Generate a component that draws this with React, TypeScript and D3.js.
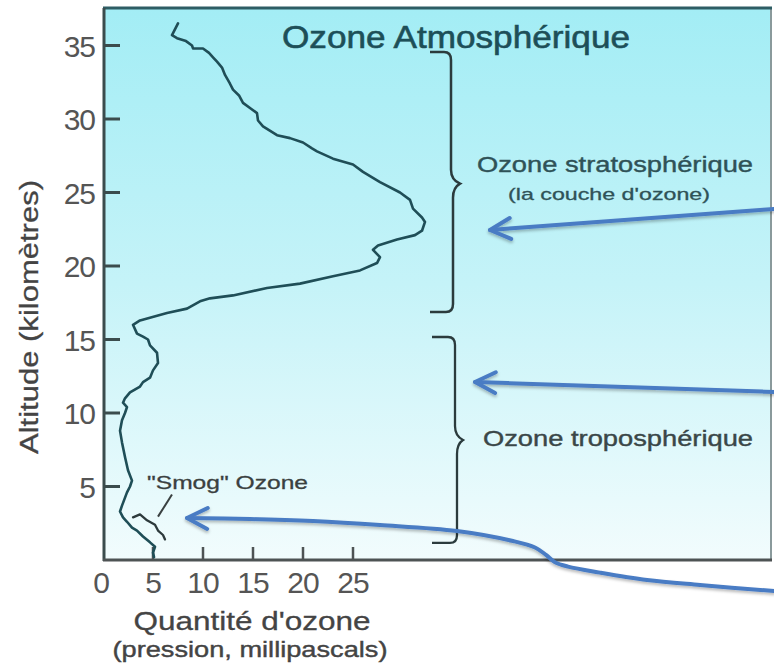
import React from 'react';
import * as d3 from 'd3';

const W = 774;
const H = 667;

// Axis ticks
const yTicks = [5, 10, 15, 20, 25, 30, 35];
const xTicks = [0, 5, 10, 15, 20, 25];

// Ozone profile (ozone partial pressure in mPa, altitude in km), top to bottom
const profileOzone = [
  7.5, 6.9, 7.4, 8.3, 8.9, 9.0, 10.0, 10.6, 11.0, 11.4, 11.9, 12.2, 12.7, 13.0, 13.6, 14.0,
  14.8, 15.4, 15.5, 16.0, 17.4, 18.7, 20.0, 20.9, 21.4, 23.0, 25.0, 26.0, 27.7, 29.7, 30.7,
  31.0, 31.9, 32.2, 31.9, 31.2, 29.4, 27.5, 27.0, 27.7, 27.4, 25.7, 23.0, 19.7, 16.4, 13.0,
  10.7, 9.7, 8.4, 6.4, 3.7, 3.0, 3.4, 4.0, 4.5, 4.7, 5.4, 5.5, 5.0, 4.7, 4.0, 3.7, 2.7, 2.2,
  2.0, 2.4, 2.2, 1.9, 1.7, 1.9, 2.2, 2.5, 2.9, 2.7, 2.4, 1.9, 1.7, 2.0, 2.4, 2.9, 3.4, 4.0,
  4.7, 5.2, 5.0, 5.1,
];
const profileAltitude = [
  36.5, 35.7, 35.5, 35.3, 35.0, 34.8, 34.8, 34.5, 34.2, 33.9, 33.5, 33.0, 32.4, 32.0, 31.6, 31.1,
  30.7, 30.4, 29.9, 29.5, 28.9, 28.7, 28.4, 28.0, 27.8, 27.3, 26.9, 26.4, 25.7, 25.0, 24.5,
  23.9, 23.3, 23.0, 22.4, 22.1, 21.8, 21.4, 21.1, 20.6, 20.2, 19.7, 19.3, 18.8, 18.5, 18.0,
  17.8, 17.6, 17.1, 16.8, 16.3, 16.0, 15.4, 15.2, 15.0, 14.6, 14.1, 13.4, 12.9, 12.4, 12.1, 11.8, 11.4, 11.0,
  10.7, 10.4, 10.0, 9.5, 8.8, 8.0, 7.0, 6.1, 5.4, 5.0, 4.6, 3.7, 3.3, 2.9, 2.6, 2.2, 2.0, 1.6,
  1.2, 0.9, 0.5, 0.2,
];

// "Smog" branch near the ground
const smogOzone = [3.0, 3.7, 4.4, 5.2, 5.5, 6.0, 6.2];
const smogAltitude = [2.9, 3.1, 2.7, 2.4, 2.0, 1.7, 1.4];

// Annotation arrows (in data units)
const arrowStratoOzone = [67.1, 38.7];
const arrowStratoAltitude = [23.88, 22.45];
const arrowTropoOzone = [67.1, 37.2];
const arrowTropoAltitude = [11.43, 12.11];
const arrowSmogOzone = [67.1, 59.7, 54.4, 49.7, 46.5, 45.2, 44.3, 43.2, 41.0, 35.4, 27.7, 21.0, 14.7, 8.4];
const arrowSmogAltitude = [-2.11, -1.7, -1.36, -0.86, -0.45, -0.15, 0.35, 0.85, 1.29, 1.97, 2.38, 2.65, 2.79, 2.86];

export default function App() {
  const x = d3.scaleLinear().domain([0, 25]).range([103, 353]);
  const y = d3.scaleLinear().domain([0, 35]).range([560, 45.5]);

  const xLeft = x(0) + 1;
  const xRight = x(66.8);
  const yTop = y(37.55);
  const yBottom = y(0);

  const line = d3
    .line<[number, number]>()
    .x((d) => x(d[0]))
    .y((d) => y(d[1]))
    .curve(d3.curveLinear);

  const profile: [number, number][] = profileOzone.map((v, i) => [v, profileAltitude[i]]);
  const smog: [number, number][] = smogOzone.map((v, i) => [v, smogAltitude[i]]);

  const smoothLine = d3
    .line<[number, number]>()
    .x((d) => x(d[0]))
    .y((d) => y(d[1]))
    .curve(d3.curveCatmullRom.alpha(0.5));

  const arrowSmog: [number, number][] = arrowSmogOzone.map((v, i) => [v, arrowSmogAltitude[i]]);

  function head(tipX: number, tipY: number, fromX: number, fromY: number) {
    const ang = Math.atan2(fromY - tipY, fromX - tipX);
    const L = 23;
    const a = (27 * Math.PI) / 180;
    const p1 = [tipX + L * Math.cos(ang - a), tipY + L * Math.sin(ang - a)];
    const p2 = [tipX + L * Math.cos(ang + a), tipY + L * Math.sin(ang + a)];
    return `M${p1[0]},${p1[1]}L${tipX},${tipY}L${p2[0]},${p2[1]}`;
  }

  function brace(xv: number, top: number, bottom: number, mid: number, hookX: number, bumpX: number, xLow: number) {
    const p = d3.path();
    p.moveTo(hookX, top);
    p.lineTo(xv - 7, top);
    p.quadraticCurveTo(xv, top, xv, top + 8);
    p.lineTo(xv, mid - 14);
    p.quadraticCurveTo(xv, mid - 4, bumpX, mid);
    p.quadraticCurveTo(xLow, mid + 4, xLow, mid + 14);
    p.lineTo(xLow, bottom - 8);
    p.quadraticCurveTo(xLow, bottom, xLow - 7, bottom);
    p.lineTo(hookX, bottom);
    return p.toString();
  }

  const a1 = { tx: x(arrowStratoOzone[1]), ty: y(arrowStratoAltitude[1]), fx: x(arrowStratoOzone[0]), fy: y(arrowStratoAltitude[0]) };
  const a2 = { tx: x(arrowTropoOzone[1]), ty: y(arrowTropoAltitude[1]), fx: x(arrowTropoOzone[0]), fy: y(arrowTropoAltitude[0]) };
  const a3tip = arrowSmog[arrowSmog.length - 1];
  const a3prev = arrowSmog[arrowSmog.length - 3];

  const font = "'Liberation Sans', Arial, Helvetica, sans-serif";
  const blue = '#4a7cc4';

  return (
    <svg width={W} height={H} style={{ position: 'absolute', left: 0, top: 0, background: '#ffffff' }} fontFamily={font}>
      <defs>
        <linearGradient id="bg" x1="0" y1="0" x2="0" y2="1">
          <stop offset="0" stopColor="#a3edf5" />
          <stop offset="0.5" stopColor="#c5f3f8" />
          <stop offset="1" stopColor="#f2fcfd" />
        </linearGradient>
        <filter id="sh" x="-10%" y="-50%" width="120%" height="200%">
          <feDropShadow dx="0" dy="2" stdDeviation="1.5" floodColor="#000" floodOpacity="0.28" />
        </filter>
      </defs>

      {/* plot background */}
      <rect x={xLeft} y={yTop} width={xRight - xLeft} height={yBottom - yTop} fill="url(#bg)" />
      {/* frame */}
      <line x1={xRight} y1={yTop} x2={xRight} y2={yBottom} stroke="#8a9a9c" strokeWidth={2} />
      <line x1={xLeft - 1} y1={yTop} x2={xRight + 1} y2={yTop} stroke="#2e5d64" strokeWidth={3} />
      <line x1={xLeft} y1={yTop} x2={xLeft} y2={yBottom + 1} stroke="#3b4c4d" strokeWidth={3} />
      <line x1={xLeft - 1} y1={yBottom} x2={xRight + 1} y2={yBottom} stroke="#4e5354" strokeWidth={3} />

      {/* y ticks */}
      {yTicks.map((t) => (
        <g key={'y' + t}>
          <line x1={xLeft} x2={xLeft + 16} y1={y(t)} y2={y(t)} stroke="#3b4c4d" strokeWidth={3} />
          <text x={95} y={y(t) + 11} textAnchor="end" fontSize={30} fill="#555" letterSpacing={-1}>
            {t}
          </text>
        </g>
      ))}

      {/* x ticks */}
      {xTicks.map((t) => (
        <g key={'x' + t}>
          {t > 0 && <line x1={x(t)} x2={x(t)} y1={yBottom} y2={yBottom - 13} stroke="#4e5354" strokeWidth={2.5} />}
          <text x={x(t) - (t === 0 ? 2 : 0)} y={593} textAnchor="middle" fontSize={30} fill="#555" letterSpacing={-1}>
            {t}
          </text>
        </g>
      ))}

      {/* axis titles */}
      <text x={252} y={630} textAnchor="middle" fontSize={26} fill="#444" stroke="#444" strokeWidth={0.3} textLength={237} lengthAdjust="spacingAndGlyphs">
        Quantité d'ozone
      </text>
      <text x={250} y={657} textAnchor="middle" fontSize={22} fill="#444" stroke="#444" strokeWidth={0.4} textLength={275} lengthAdjust="spacingAndGlyphs">
        (pression, millipascals)
      </text>
      <text transform="translate(38,317) rotate(-90)" textAnchor="middle" fontSize={26} fill="#444" stroke="#444" strokeWidth={0.3} textLength={274} lengthAdjust="spacingAndGlyphs">
        Altitude (kilomètres)
      </text>

      {/* title */}
      <text x={282} y={48} fontSize={32} fill="#1d4f58" stroke="#1d4f58" strokeWidth={0.6} textLength={348} lengthAdjust="spacingAndGlyphs">
        Ozone Atmosphérique
      </text>

      {/* ozone profile */}
      <path d={line(profile) || ''} fill="none" stroke="#1f4e57" strokeWidth={2.6} strokeLinejoin="round" strokeLinecap="round" />
      <path d={line(smog) || ''} fill="none" stroke="#2d3a3c" strokeWidth={2.3} strokeLinejoin="round" strokeLinecap="round" />

      {/* smog label + pointer */}
      <text x={147} y={489} fontSize={19} fill="#3a4040" stroke="#3a4040" strokeWidth={0.3} textLength={161} lengthAdjust="spacingAndGlyphs">
        "Smog" Ozone
      </text>
      <line x1={x(6.9)} y1={y(4.45)} x2={x(5.5)} y2={y(2.95)} stroke="#3a4040" strokeWidth={2} />

      {/* braces */}
      <path
        d={brace(x(34.8), y(34.56), y(16.87), y(25.6), x(32.7), x(35.7), x(35.0))}
        fill="none"
        stroke="#2b3b3d"
        strokeWidth={2.5}
      />
      <path
        d={brace(x(35.2), y(15.17), y(1.16), y(8.16), x(32.9), x(36.0), x(35.4))}
        fill="none"
        stroke="#2b3b3d"
        strokeWidth={2.3}
      />

      {/* region labels */}
      <text x={477} y={172} fontSize={22} fill="#2f5257" stroke="#2f5257" strokeWidth={0.4} textLength={276} lengthAdjust="spacingAndGlyphs">
        Ozone stratosphérique
      </text>
      <text x={508} y={200} fontSize={17} fill="#2f5257" stroke="#2f5257" strokeWidth={0.3} textLength={202} lengthAdjust="spacingAndGlyphs">
        (la couche d'ozone)
      </text>
      <text x={483} y={446} fontSize={22} fill="#3a4748" stroke="#3a4748" strokeWidth={0.4} textLength={270} lengthAdjust="spacingAndGlyphs">
        Ozone troposphérique
      </text>

      {/* arrows */}
      <g filter="url(#sh)" stroke={blue} strokeWidth={4} fill="none" strokeLinecap="round" strokeLinejoin="round">
        <line x1={a1.fx} y1={a1.fy} x2={a1.tx} y2={a1.ty} />
        <path d={head(a1.tx, a1.ty, a1.fx, a1.fy)} />
        <line x1={a2.fx} y1={a2.fy} x2={a2.tx} y2={a2.ty} />
        <path d={head(a2.tx, a2.ty, a2.fx, a2.fy)} />
        <path d={smoothLine(arrowSmog) || ''} />
        <path d={head(x(a3tip[0]), y(a3tip[1]), x(a3prev[0]), y(a3prev[1]))} />
      </g>
    </svg>
  );
}
